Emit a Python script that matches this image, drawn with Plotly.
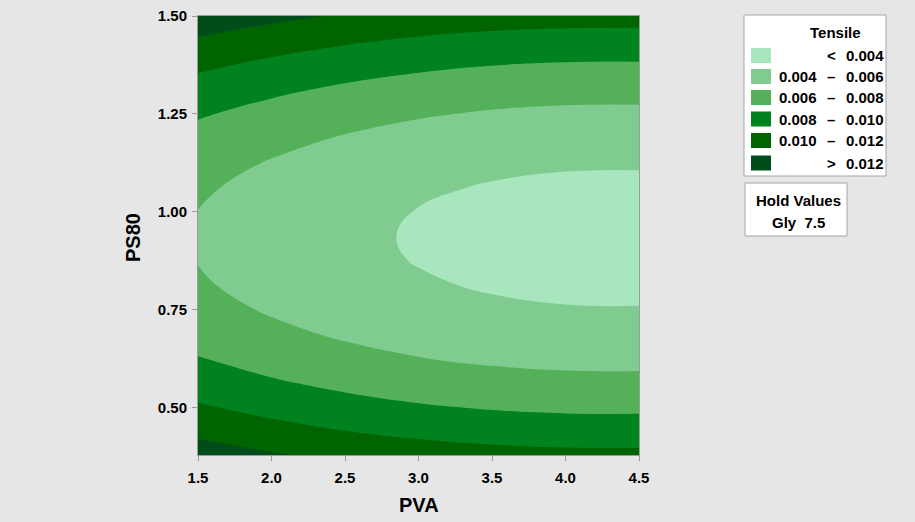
import plotly.graph_objects as go

# Tensile response surface (Gly held at 7.5)
pva = [1.5, 2.0, 2.5, 3.0, 3.5, 4.0, 4.5]
ps80 = [0.375, 0.4375, 0.5, 0.5625, 0.625, 0.6875, 0.75, 0.8125, 0.875, 0.9375,
        1.0, 1.0625, 1.125, 1.1875, 1.25, 1.3125, 1.375, 1.4375, 1.5]
tensile = [
    [0.013094, 0.012257, 0.011582, 0.011071, 0.010722, 0.010537, 0.010514],
    [0.011566, 0.010729, 0.010054, 0.009543, 0.009194, 0.009009, 0.008986],
    [0.010220, 0.009383, 0.008708, 0.008197, 0.007848, 0.007663, 0.007640],
    [0.009055, 0.008218, 0.007543, 0.007032, 0.006683, 0.006498, 0.006475],
    [0.008071, 0.007234, 0.006559, 0.006048, 0.005699, 0.005514, 0.005491],
    [0.007268, 0.006431, 0.005756, 0.005245, 0.004896, 0.004711, 0.004688],
    [0.006647, 0.005810, 0.005135, 0.004624, 0.004275, 0.004090, 0.004067],
    [0.006207, 0.005370, 0.004695, 0.004184, 0.003835, 0.003650, 0.003627],
    [0.005948, 0.005111, 0.004436, 0.003925, 0.003576, 0.003391, 0.003368],
    [0.005870, 0.005033, 0.004358, 0.003847, 0.003498, 0.003313, 0.003290],
    [0.005974, 0.005137, 0.004462, 0.003951, 0.003602, 0.003417, 0.003394],
    [0.006259, 0.005422, 0.004747, 0.004236, 0.003887, 0.003702, 0.003679],
    [0.006725, 0.005888, 0.005213, 0.004702, 0.004353, 0.004168, 0.004145],
    [0.007373, 0.006536, 0.005861, 0.005350, 0.005001, 0.004816, 0.004793],
    [0.008201, 0.007364, 0.006689, 0.006178, 0.005829, 0.005644, 0.005621],
    [0.009211, 0.008374, 0.007699, 0.007188, 0.006839, 0.006654, 0.006631],
    [0.010402, 0.009565, 0.008890, 0.008379, 0.008030, 0.007845, 0.007822],
    [0.011775, 0.010938, 0.010263, 0.009752, 0.009403, 0.009218, 0.009195],
    [0.013329, 0.012492, 0.011817, 0.011306, 0.010957, 0.010772, 0.010749],
]

level_start, level_end, level_step = 0.004, 0.012, 0.002
band_colors = ["#a8e6be", "#80cc90", "#55b05a", "#00821e", "#006400", "#004d1a"]
band_labels = [("", "<", "0.004"), ("0.004", "–", "0.006"), ("0.006", "–", "0.008"),
               ("0.008", "–", "0.010"), ("0.010", "–", "0.012"), ("", ">", "0.012")]
x_ticks = [1.5, 2.0, 2.5, 3.0, 3.5, 4.0, 4.5]
y_ticks = [0.50, 0.75, 1.00, 1.25, 1.50]
hold_title = "Hold Values"
hold_text = "Gly  7.5"

# stepped colorscale: one flat block per band
n = len(band_colors)
colorscale = []
for i, c in enumerate(band_colors):
    colorscale.append([i / n, c])
    colorscale.append([(i + 1) / n, c])

FONT = "Liberation Sans, Arial, sans-serif"
AXIS_GREY = "#9a9a9a"

fig = go.Figure(go.Contour(
    x=pva, y=ps80, z=tensile,
    autocontour=False,
    contours=dict(start=level_start, end=level_end, size=level_step, coloring="fill"),
    colorscale=colorscale, showscale=False,
    line=dict(width=0, smoothing=1.3),
    hoverinfo="skip",
))

# plot-area pixel frame: x 198..639, y 16..455
L, R, T, B = 198, 639, 16, 455
def px(xp):
    return (xp - L) / (R - L)
def py(yp):
    return (B - yp) / (B - T)

axis_common = dict(
    showgrid=False, zeroline=False, showline=True, mirror=True,
    linecolor=AXIS_GREY, linewidth=1, automargin=False,
    ticks="outside", ticklen=5, tickcolor=AXIS_GREY, tickwidth=1,
    tickfont=dict(family=FONT, size=15, color="black", weight="bold"),
)

fig.update_layout(
    width=915, height=522,
    margin=dict(l=L, r=915 - R, t=T, b=522 - B, pad=0),
    paper_bgcolor="#e6e6e6", plot_bgcolor="#e6e6e6",
    xaxis=dict(range=[1.5, 4.5], tickvals=x_ticks,
               ticktext=[f"{v:.1f}" for v in x_ticks], ticklabelstandoff=4,
               **axis_common),
    yaxis=dict(range=[0.378, 1.5], tickvals=y_ticks,
               ticktext=[f"{v:.2f}" for v in y_ticks], ticklabelstandoff=2,
               **axis_common),
    showlegend=False,
)

annotations = []
shapes = []

def text(x, y, s, size=15, xanchor="center", angle=0):
    annotations.append(dict(
        x=px(x), y=py(y), xref="paper", yref="paper", text=f"<b>{s}</b>",
        showarrow=False, xanchor=xanchor, yanchor="middle", textangle=angle,
        font=dict(family=FONT, size=size, color="black"),
    ))

# axis titles
text(418.5, 505, "PVA", size=20)
text(133, 238, "PS80", size=20, angle=-90)

# legend box
shapes.append(dict(type="rect", xref="paper", yref="paper",
                   x0=px(744), x1=px(886), y0=py(176), y1=py(15),
                   fillcolor="white", line=dict(color="#a6a6a6", width=1)))
text(835, 33, "Tensile")
row_y = [55.5, 76.5, 97.5, 119, 140.5, 163]
for yc, col, (lo, sym, hi) in zip(row_y, band_colors, band_labels):
    shapes.append(dict(type="rect", xref="paper", yref="paper",
                       x0=px(751), x1=px(771), y0=py(yc + 7.5), y1=py(yc - 7.5),
                       fillcolor=col, line=dict(width=0)))
    if lo:
        text(819, yc, lo, xanchor="right")
    text(831, yc, sym)
    text(844, yc, hi, xanchor="left")

# hold values box
shapes.append(dict(type="rect", xref="paper", yref="paper",
                   x0=px(745), x1=px(847), y0=py(236), y1=py(183),
                   fillcolor="white", line=dict(color="#a6a6a6", width=1)))
text(798.5, 200, hold_title)
text(798.5, 222, hold_text)

fig.update_layout(annotations=annotations, shapes=shapes)
fig.write_html("out.html")
